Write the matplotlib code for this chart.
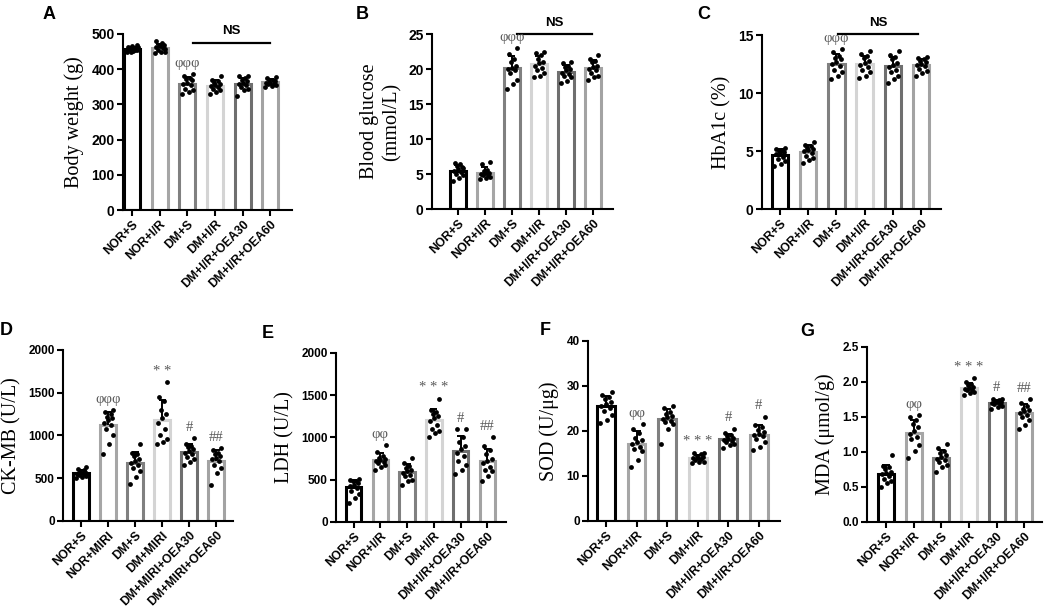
import numpy as np
import matplotlib
matplotlib.use('Agg')
import matplotlib.pyplot as plt

plt.rcParams['font.family'] = ['Liberation Sans', 'DejaVu Sans']

# group names
groups_ir = ['NOR+S', 'NOR+I/R', 'DM+S', 'DM+I/R', 'DM+I/R+OEA30', 'DM+I/R+OEA60']
groups_miri = ['NOR+S', 'NOR+MIRI', 'DM+S', 'DM+MIRI', 'DM+MIRI+OEA30', 'DM+MIRI+OEA60']

# individual animals per group
body_weight = [
    [448, 452, 455, 458, 460, 462, 465, 470, 450, 455, 457, 463],
    [445, 448, 450, 455, 460, 462, 465, 468, 470, 475, 480, 458],
    [330, 335, 340, 345, 355, 358, 362, 368, 372, 375, 380, 385],
    [330, 335, 340, 345, 350, 352, 355, 358, 360, 365, 370, 380],
    [325, 340, 345, 350, 355, 358, 362, 365, 370, 375, 380, 382],
    [350, 352, 355, 357, 358, 360, 362, 365, 368, 370, 375, 378],
]
glucose = [
    [4.0, 4.5, 4.8, 5.0, 5.3, 5.5, 5.7, 6.0, 6.2, 6.4, 6.6, 5.8],
    [4.3, 4.5, 4.6, 4.8, 4.9, 5.0, 5.1, 5.2, 5.4, 5.6, 6.5, 6.7],
    [17.2, 17.8, 18.5, 19.5, 19.8, 20.0, 20.2, 20.5, 21.0, 21.5, 22.2, 23.0],
    [18.8, 19.0, 19.5, 19.8, 20.2, 20.5, 20.8, 21.0, 21.5, 22.0, 22.3, 22.4],
    [18.0, 18.3, 18.8, 19.0, 19.3, 19.5, 19.8, 20.0, 20.3, 20.5, 20.8, 21.0],
    [18.5, 18.8, 19.0, 19.5, 19.8, 20.0, 20.3, 20.5, 21.0, 21.2, 21.5, 22.0],
]
hba1c = [
    [3.7, 3.9, 4.1, 4.3, 4.5, 4.7, 4.8, 4.9, 5.0, 5.1, 5.2, 5.3],
    [4.0, 4.2, 4.4, 4.6, 4.8, 5.0, 5.1, 5.2, 5.3, 5.4, 5.5, 5.8],
    [11.2, 11.5, 11.8, 12.0, 12.3, 12.5, 12.7, 12.9, 13.0, 13.2, 13.5, 13.8],
    [11.3, 11.5, 11.8, 12.0, 12.2, 12.4, 12.6, 12.8, 13.0, 13.2, 13.4, 13.6],
    [10.9, 11.2, 11.5, 11.8, 12.0, 12.2, 12.4, 12.6, 12.9, 13.1, 13.3, 13.6],
    [11.5, 11.7, 11.9, 12.1, 12.3, 12.4, 12.5, 12.7, 12.8, 12.9, 13.0, 13.1],
]
ckmb = [
    [500, 520, 530, 540, 550, 555, 560, 570, 580, 600, 610, 630],
    [780, 900, 1000, 1080, 1120, 1150, 1180, 1200, 1220, 1250, 1280, 1300],
    [430, 520, 580, 620, 650, 680, 700, 720, 760, 780, 800, 900],
    [900, 920, 960, 1000, 1080, 1150, 1200, 1250, 1300, 1400, 1450, 1620],
    [660, 690, 720, 750, 780, 800, 820, 840, 860, 880, 900, 970],
    [420, 560, 620, 660, 700, 720, 740, 760, 780, 800, 830, 850],
]
ldh = [
    [220, 280, 330, 370, 400, 420, 440, 460, 480, 490, 500, 510],
    [620, 650, 680, 700, 710, 720, 730, 740, 760, 780, 830, 910],
    [440, 480, 500, 540, 560, 580, 600, 620, 640, 660, 700, 760],
    [1000, 1050, 1080, 1100, 1150, 1200, 1230, 1250, 1280, 1300, 1320, 1460],
    [570, 620, 680, 720, 780, 820, 860, 900, 950, 1000, 1100, 1100],
    [480, 550, 600, 620, 650, 700, 720, 750, 800, 850, 900, 1000],
]
sod = [
    [21.8, 22.5, 23.5, 24.5, 25.0, 25.5, 26.0, 26.5, 27.0, 27.5, 28.0, 28.7],
    [12.0, 13.5, 15.5, 16.0, 16.5, 17.0, 17.5, 18.0, 18.5, 19.5, 20.5, 21.5],
    [17.2, 20.5, 21.5, 22.0, 22.3, 22.6, 23.0, 23.3, 23.8, 24.2, 25.0, 25.5],
    [12.8, 13.0, 13.2, 13.5, 13.7, 13.9, 14.0, 14.2, 14.5, 14.8, 15.0, 15.2],
    [16.2, 16.8, 17.2, 17.5, 17.8, 18.0, 18.3, 18.5, 18.8, 19.2, 19.5, 20.5],
    [15.8, 16.5, 17.5, 18.3, 18.8, 19.0, 19.3, 19.8, 20.3, 20.8, 21.3, 23.2],
]
mda = [
    [0.50, 0.55, 0.58, 0.62, 0.65, 0.68, 0.70, 0.72, 0.75, 0.78, 0.80, 0.95],
    [0.92, 1.02, 1.10, 1.18, 1.22, 1.26, 1.30, 1.35, 1.40, 1.45, 1.50, 1.53],
    [0.72, 0.78, 0.82, 0.86, 0.88, 0.90, 0.93, 0.96, 0.98, 1.02, 1.05, 1.12],
    [1.82, 1.84, 1.86, 1.88, 1.89, 1.90, 1.92, 1.93, 1.95, 1.97, 2.00, 2.05],
    [1.62, 1.64, 1.66, 1.68, 1.69, 1.70, 1.71, 1.72, 1.73, 1.74, 1.75, 1.76],
    [1.33, 1.38, 1.45, 1.50, 1.53, 1.56, 1.58, 1.60, 1.62, 1.65, 1.70, 1.75],
]

bar_colors = ['#000000', '#a6a6a6', '#808080', '#d4d4d4', '#6f6f6f', '#a3a3a3']
mark_color = '#5a5a5a'
jitter = [-0.19, 0.04, 0.19, -0.08, 0.12, -0.15, 0.0, 0.16, -0.04, 0.09, -0.12, 0.2]

fig = plt.figure(figsize=(10.45, 6.11), dpi=100)


def draw_panel(rect, groups, values, ylabel, yticks, xlim, marks,
               letter, letter_xy, ns=None, decimals=0, ytick_size=8.5):
    ax = fig.add_axes(rect)
    x = np.arange(len(groups))
    means = np.array([np.mean(v) for v in values])
    sds = np.array([np.std(v, ddof=1) for v in values])
    ax.bar(x, means, width=0.58, facecolor='white', edgecolor=bar_colors,
           linewidth=2.2, zorder=2)
    for i, v in enumerate(values):
        ax.scatter(i + np.array(jitter[:len(v)]), v, s=12, color='black',
                   zorder=3, linewidths=0)
    ax.vlines(x, means, means + sds, color='black', linewidth=1.4, zorder=4)
    ax.hlines(means + sds, x - 0.13, x + 0.13, color='black', linewidth=1.4,
              zorder=4)

    yr = yticks[-1] - yticks[0]
    for i, txt in marks.items():
        top = max(np.max(values[i]), means[i] + sds[i])
        ax.text(i, top + 0.025 * yr, txt, ha='center', va='bottom',
                fontsize=10.5, color=mark_color, family='Liberation Serif')

    if ns is not None:
        x0, x1, yline = ns
        ax.plot([x0, x1], [yline, yline], color='black', linewidth=1.6,
                clip_on=False)
        ax.text((x0 + x1) / 2, yline + 0.03 * yr, 'NS', ha='center',
                va='bottom', fontsize=9.5, fontweight='bold', clip_on=False)

    ax.set_xlim(*xlim)
    ax.set_ylim(yticks[0], yticks[-1])
    ax.set_yticks(yticks)
    ax.set_yticklabels([f'{t:.{decimals}f}' for t in yticks],
                       fontsize=ytick_size, fontweight='bold')
    ax.set_xticks(x)
    ax.set_xticklabels(groups, rotation=45, ha='right', rotation_mode='anchor',
                       fontsize=8.8, fontweight='bold')
    ax.set_ylabel(ylabel, fontsize=14.5, family='Liberation Serif', labelpad=5)
    for side in ['top', 'right']:
        ax.spines[side].set_visible(False)
    for side in ['left', 'bottom']:
        ax.spines[side].set_linewidth(1.5)
    ax.tick_params(width=1.5, length=4, pad=2)
    fig.text(letter_xy[0], letter_xy[1], letter, fontsize=13,
             fontweight='bold', va='top', ha='left')
    return ax


draw_panel([0.1177, 0.6563, 0.1617, 0.2881], groups_ir, body_weight,
           'Body weight (g)', [0, 100, 200, 300, 400, 500], (-0.33, 5.78),
           {2: 'φφφ'}, 'A', (0.041, 0.99), ns=(2.2, 5.0, 475), ytick_size=10)
draw_panel([0.4134, 0.6579, 0.1732, 0.2864], groups_ir, glucose,
           'Blood glucose\n(mmol/L)', [0, 5, 10, 15, 20, 25], (-0.96, 5.74),
           {2: 'φφφ'}, 'B', (0.340, 0.99), ns=(2.2, 4.96, 25), ytick_size=10)
draw_panel([0.7292, 0.6579, 0.1713, 0.2848], groups_ir, hba1c,
           'HbA1c (%)', [0, 5, 10, 15], (-0.63, 5.7),
           {2: 'φφφ'}, 'C', (0.667, 0.99), ns=(2.07, 4.87, 15.1), ytick_size=10)
draw_panel([0.0603, 0.1473, 0.1627, 0.2799], groups_miri, ckmb,
           'CK-MB (U/L)', [0, 500, 1000, 1500, 2000], (-0.67, 5.63),
           {1: 'φφφ', 3: '* *', 4: '#', 5: '##'}, 'D', (0.0, 0.473))
draw_panel([0.3215, 0.1457, 0.1627, 0.2766], groups_ir, ldh,
           'LDH (U/L)', [0, 500, 1000, 1500, 2000], (-0.66, 5.7),
           {1: 'φφ', 3: '* * *', 4: '#', 5: '##'}, 'E', (0.2507, 0.468))
draw_panel([0.5627, 0.1473, 0.1837, 0.2946], groups_ir, sod,
           'SOD (U/μg)', [0, 10, 20, 30, 40], (-0.59, 5.69),
           {1: 'φφ', 3: '* * *', 4: '#', 5: '#'}, 'F', (0.5167, 0.473))
draw_panel([0.8297, 0.1457, 0.1675, 0.2864], groups_ir, mda,
           'MDA (μmol/g)', [0.0, 0.5, 1.0, 1.5, 2.0, 2.5], (-0.69, 5.65),
           {1: 'φφ', 3: '* * *', 4: '#', 5: '##'}, 'G', (0.7656, 0.471),
           decimals=1)

fig.savefig('out.png', dpi=100)
